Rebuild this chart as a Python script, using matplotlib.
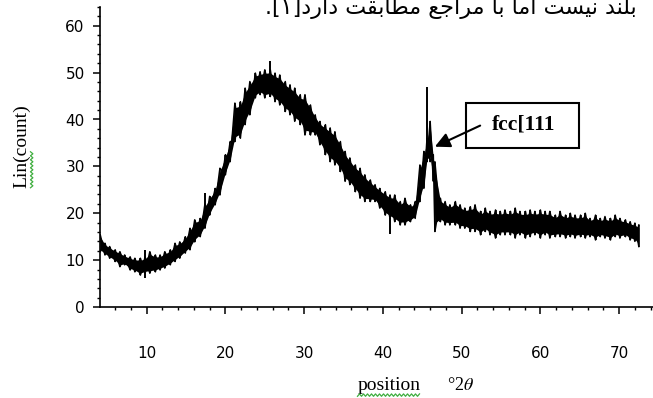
import numpy as np
import matplotlib
matplotlib.use('Agg')
import matplotlib.pyplot as plt
from matplotlib.lines import Line2D
from matplotlib.patches import Rectangle
from matplotlib.ticker import MultipleLocator

plt.rcParams['mathtext.fontset'] = 'stix'

# - Scan, read as the upper / lower edge of the noisy trace
two_theta = [4.1, 4.7, 5.3, 6.0, 6.6, 7.2, 7.9, 8.5, 9.2, 9.8,
             10.4, 11.1, 11.7, 12.3, 13.0, 13.6, 14.2, 14.9, 15.5, 16.1,
             16.8, 17.4, 18.0, 18.7, 19.3, 20.0, 20.6, 21.2, 21.9, 22.5,
             23.1, 23.8, 24.4, 25.0, 25.7, 26.3, 26.9, 27.6, 28.2, 28.8,
             29.5, 30.1, 30.8, 31.4, 32.0, 32.7, 33.3, 33.9, 34.6, 35.2,
             35.8, 36.5, 37.1, 37.7, 38.4, 39.0, 39.6, 40.3, 40.9, 41.5,
             42.2, 42.8, 43.5, 44.1, 44.7, 45.2, 45.6, 46.0, 46.4, 46.6,
             47.3, 47.9, 48.5, 49.2, 49.8, 50.4, 51.1, 51.7, 52.4, 53.0,
             53.6, 54.3, 54.9, 55.5, 56.2, 56.8, 57.4, 58.1, 58.7, 59.3,
             60.0, 60.6, 61.2, 61.9, 62.5, 63.2, 63.8, 64.4, 65.1, 65.7,
             66.3, 67.0, 67.6, 68.2, 68.9, 69.5, 70.1, 70.8, 71.4, 72.0,
             72.5]
count_hi = [15.4, 13.6, 12.9, 12.2, 11.8, 11.1, 10.7, 10.4, 10.4, 10.7,
            11.8, 11.1, 11.1, 11.8, 12.2, 13.6, 13.9, 15.0, 16.8, 18.6,
            18.9, 22.0, 23.6, 25.3, 29.6, 32.5, 35.3, 43.5, 43.8, 46.7,
            48.1, 49.9, 50.2, 50.6, 50.6, 49.9, 49.5, 48.1, 47.4, 46.7,
            45.3, 45.3, 43.1, 41.0, 39.6, 38.9, 38.2, 37.4, 35.3, 33.2,
            31.8, 30.3, 29.6, 28.2, 27.1, 26.1, 25.3, 24.6, 23.9, 23.9,
            22.5, 23.2, 21.8, 22.5, 30.3, 33.2, 36.0, 39.6, 32.5, 31.0,
            23.2, 22.5, 21.8, 22.5, 21.8, 21.1, 21.4, 21.8, 20.4, 21.1,
            20.4, 20.7, 20.4, 20.7, 20.4, 21.1, 20.4, 20.4, 20.7, 20.4,
            20.7, 20.4, 20.4, 19.6, 20.4, 19.6, 20.0, 19.6, 19.6, 20.0,
            18.9, 19.6, 18.9, 19.3, 18.9, 19.6, 18.9, 18.6, 18.2, 17.9,
            17.5]
count_lo = [11.8, 11.1, 10.4, 9.7, 8.6, 9.0, 7.9, 7.5, 6.8, 7.2,
            7.2, 7.5, 7.9, 8.3, 9.0, 9.7, 10.4, 11.5, 12.2, 13.9,
            15.0, 16.8, 19.6, 21.8, 23.9, 28.2, 31.0, 35.3, 36.0, 38.9,
            41.0, 44.6, 45.3, 44.6, 44.9, 43.8, 43.1, 41.7, 41.0, 39.6,
            38.9, 36.7, 36.7, 36.7, 34.6, 32.5, 31.0, 30.3, 28.9, 26.8,
            26.1, 24.6, 23.2, 22.5, 22.5, 22.5, 21.1, 19.6, 18.9, 18.2,
            17.5, 17.5, 18.2, 18.9, 22.5, 25.3, 31.0, 31.0, 26.8, 16.1,
            18.2, 17.5, 17.5, 17.5, 16.8, 16.8, 16.1, 16.1, 15.4, 16.1,
            15.4, 14.7, 15.4, 15.4, 15.4, 14.7, 15.4, 14.7, 15.0, 15.4,
            14.7, 15.4, 14.7, 15.0, 15.0, 14.7, 15.0, 14.7, 15.0, 14.7,
            15.0, 14.3, 15.0, 14.7, 14.3, 15.0, 14.7, 15.0, 14.3, 14.0,
            12.9]

# - Single-channel spikes sticking out of the band
spike_pos = [9.8, 17.4, 25.7, 40.9, 45.6]
spike_lo = [6.1, 16.8, 44.9, 15.5, 31.0]
spike_hi = [12.2, 24.3, 52.4, 18.9, 47.0]

peak_label = 'fcc[111'

# matplotlib does no Arabic shaping, so the line is kept in presentation
# forms and in display (left to right) order
caption = ('.[\u06F1]'
           '\uFEA9\uFEAD\uFE8D\uFEA9 '
           '\uFE96\uFED8\uFE91\uFE8E\uFEC4\uFEE3 '
           '\uFECA\uFE9F\uFE8D\uFEAE\uFEE3 '
           '\uFE8E\uFE91 '
           '\uFE8E\uFEE3\uFE8D '
           '\uFE96\uFEB4\uFBFF\uFEE7 '
           '\uFEAA\uFEE8\uFEE0\uFE91')

#################################################

W, H = 653, 398
fig = plt.figure(figsize=(W / 100, H / 100), dpi=100)
ax = fig.add_axes([100 / W, 91 / H, 553 / W, 300 / H])

# - The trace: solid core, then zig-zag strokes out to the edges
x = np.array(two_theta)
hi = np.array(count_hi)
lo = np.array(count_lo)
span = hi - lo
ax.fill_between(x, lo + 0.12 * span, hi - 0.12 * span, color='black', lw=0)
even = np.arange(len(x)) % 2 == 0
ax.plot(x, np.where(even, hi, lo), color='black', lw=1.1)
ax.plot(x, np.where(even, lo, hi), color='black', lw=1.1)
ax.vlines(x, lo, hi, color='black', lw=1.1)
ax.vlines(spike_pos, spike_lo, spike_hi, color='black', lw=1.4)

# - Axes
ax.set_xlim(4.07, 74.3)
ax.set_ylim(0, 64)
for side in ['top', 'right']:
    ax.spines[side].set_visible(False)
for side in ['left', 'bottom']:
    ax.spines[side].set_linewidth(1.2)

ax.xaxis.set_major_locator(MultipleLocator(10))
ax.xaxis.set_minor_locator(MultipleLocator(2))
ax.yaxis.set_major_locator(MultipleLocator(10))
ax.yaxis.set_minor_locator(MultipleLocator(2))
ax.tick_params(which='major', length=5, width=1.1, direction='out', labelsize=11)
ax.tick_params(which='minor', length=2.5, width=1.0, direction='out')
ax.tick_params(axis='x', which='major', pad=23)
ax.tick_params(axis='y', which='major', pad=6)

# - Labels
ax.set_ylabel('Lin(count)', family='Liberation Serif', fontsize=14, va='center')
ax.yaxis.set_label_coords(-0.141, 0.537)
ax.set_xlabel('position', family='Liberation Serif', fontsize=14, va='baseline')
ax.xaxis.set_label_coords(0.5226, -0.277)
ax.text(0.6275, -0.277, '°2$\\theta$', transform=ax.transAxes, ha='left',
        va='baseline', family='Liberation Serif', fontsize=13)

# - Peak annotation
ax.add_patch(Rectangle((0.662, 0.53), 0.204, 0.15, transform=ax.transAxes,
                       fill=False, lw=1.5, color='black', clip_on=False))
ax.text(0.766, 0.607, peak_label, transform=ax.transAxes, ha='center', va='center',
        family='Liberation Serif', weight='bold', fontsize=15.5)
ax.annotate('', xy=(46.6, 34.2), xytext=(52.35, 38.7),
            arrowprops=dict(arrowstyle='-|>,head_length=0.9,head_width=0.45',
                            color='black', lw=1.5, shrinkA=0, shrinkB=0))

fig.text(637 / W, 1 - 14 / H, caption, ha='right', va='baseline',
         family='DejaVu Sans', fontsize=16)

# - Spell-check squiggles under the axis labels
fig.canvas.draw()
renderer = fig.canvas.get_renderer()


def squiggle(x0, x1, y0, y1, vertical=False):
    if vertical:
        t = np.arange(y0, y1, 2.0)
        xs = x0 + np.where(np.arange(len(t)) % 2 == 0, -1.2, 1.2)
        ys = t
    else:
        t = np.arange(x0, x1, 2.0)
        xs = t
        ys = y0 + np.where(np.arange(len(t)) % 2 == 0, -1.2, 1.2)
    fig.add_artist(Line2D(xs / W, ys / H, color='#3fae3f', lw=0.9,
                          transform=fig.transFigure))


bb = ax.xaxis.label.get_window_extent(renderer)
squiggle(bb.x0, bb.x1, bb.y0 - 1, None)
bb = ax.yaxis.label.get_window_extent(renderer)
squiggle(bb.x1 + 1, None, bb.y0, bb.y0 + 0.43 * bb.height, vertical=True)

plt.savefig('out.png', dpi=100)
